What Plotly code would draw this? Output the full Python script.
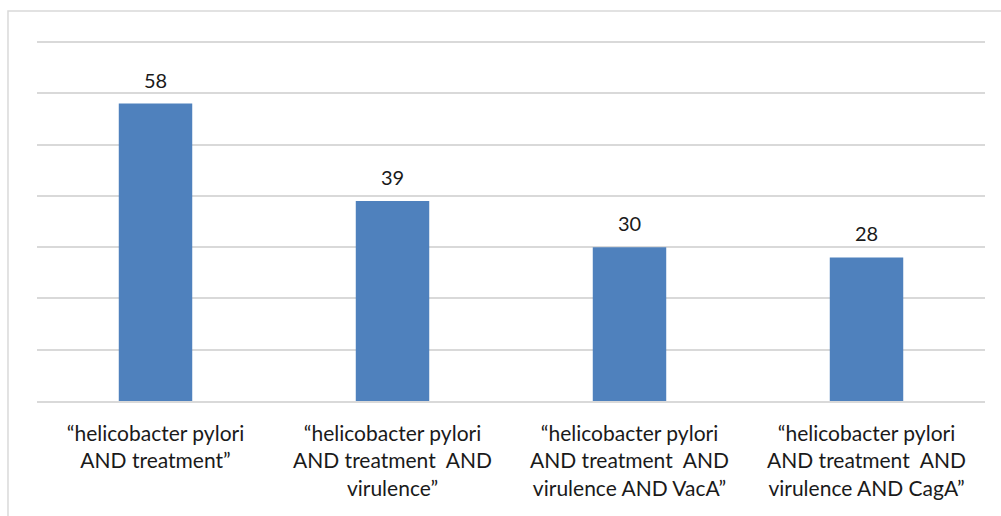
import plotly.graph_objects as go

# Search queries and the number of results for each
categories = [
    "“helicobacter pylori<br>AND treatment”",
    "“helicobacter pylori<br>AND treatment  AND<br>virulence”",
    "“helicobacter pylori<br>AND treatment  AND<br>virulence AND VacA”",
    "“helicobacter pylori<br>AND treatment  AND<br>virulence AND CagA”",
]
counts = [58, 39, 30, 28]

BAR_COLOR = "#4f81bd"
TEXT_COLOR = "#1a1a1a"
GRID_COLOR = "#d9d9d9"
FONT = "Lato, 'Open Sans', sans-serif"

fig = go.Figure(
    go.Bar(
        x=categories,
        y=counts,
        marker=dict(color=BAR_COLOR, line=dict(width=0)),
        width=0.31,
        cliponaxis=False,
    )
)

# Value labels above each bar
for cat, val in zip(categories, counts):
    fig.add_annotation(
        x=cat, y=val, text=str(val),
        showarrow=False, yanchor="middle", yshift=24,
        font=dict(family=FONT, size=20, color=TEXT_COLOR),
    )

fig.update_layout(
    width=1001,
    height=516,
    margin=dict(l=37, r=16, t=41, b=115),
    paper_bgcolor="white",
    plot_bgcolor="white",
    showlegend=False,
    font=dict(family=FONT, size=21, color=TEXT_COLOR),
)

fig.update_xaxes(
    showgrid=False,
    showline=True,
    linecolor=GRID_COLOR,
    linewidth=1.5,
    ticks="",
    tickfont=dict(family=FONT, size=21, color=TEXT_COLOR),
    ticklabelstandoff=13,
)
fig.update_yaxes(
    range=[0, 70.2],
    tickvals=[10, 20, 30, 40, 50, 60, 70],
    showgrid=True,
    gridcolor=GRID_COLOR,
    gridwidth=1.5,
    showticklabels=False,
    zeroline=False,
    ticks="",
)

# Light frame around the chart area
fig.add_shape(
    type="rect",
    xref="paper", yref="paper",
    x0=-0.0306, x1=1.05, y0=-0.4, y1=1.083,
    line=dict(color=GRID_COLOR, width=1.5),
    fillcolor="rgba(0,0,0,0)",
    layer="below",
)

fig.write_html("out.html")
